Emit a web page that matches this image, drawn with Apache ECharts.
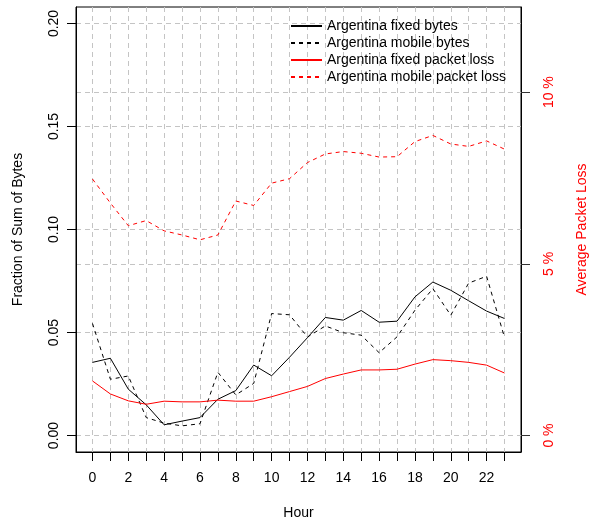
<!DOCTYPE html>
<html>
<head>
<meta charset="utf-8">
<script src="https://cdn.jsdelivr.net/npm/echarts@6/dist/echarts.min.js"></script>
<style>
  html, body { margin: 0; padding: 0; background: #fff; }
  #main { width: 591px; height: 527px; }
</style>
</head>
<body>
<div id="main"></div>
<script>
// hours of the day
var hours = [0, 1, 2, 3, 4, 5, 6, 7, 8, 9, 10, 11, 12, 13, 14, 15, 16, 17, 18, 19, 20, 21, 22, 23];
var hourLabels = [0, 2, 4, 6, 8, 10, 12, 14, 16, 18, 20, 22];
var leftTicks = [0, 0.05, 0.10, 0.15, 0.20];
var rightTicks = [0, 5, 10];

// fraction of sum of bytes
var fixedBytes = [0.0355, 0.0375, 0.0225, 0.0149, 0.0052, 0.007, 0.0087, 0.0176, 0.0218, 0.0342, 0.029, 0.038,
  0.0475, 0.0573, 0.056, 0.0607, 0.055, 0.0555, 0.0673, 0.0745, 0.0705, 0.0654, 0.0604, 0.0568];
var mobileBytes = [0.0544, 0.0273, 0.0289, 0.0087, 0.006, 0.0047, 0.0057, 0.0307, 0.0197, 0.0253, 0.0592, 0.0586,
  0.0478, 0.0532, 0.0499, 0.0487, 0.0402, 0.0479, 0.0608, 0.0713, 0.0584, 0.074, 0.0773, 0.0476];
// average packet loss, percent
var fixedLoss = [1.59, 1.21, 1.01, 0.91, 1.0, 0.98, 0.98, 1.03, 1.0, 1.0, 1.13, 1.28,
  1.43, 1.66, 1.79, 1.91, 1.91, 1.93, 2.08, 2.21, 2.18, 2.13, 2.05, 1.82];
var mobileLoss = [7.47, 6.77, 6.11, 6.26, 5.96, 5.84, 5.70, 5.84, 6.83, 6.70, 7.35, 7.48,
  7.95, 8.20, 8.27, 8.22, 8.11, 8.12, 8.56, 8.74, 8.49, 8.42, 8.58, 8.34];

var chart = echarts.init(document.getElementById('main'));

function pairs(vals) {
  var out = [];
  for (var i = 0; i < hours.length; i++) {
    out.push([hours[i], vals[i]]);
  }
  return out;
}

var font = 'Liberation Sans, Arial, sans-serif';
var gridLine = { show: true, lineStyle: { color: '#c4c4c4', type: [5, 4], width: 1 } };

var option = {
  backgroundColor: '#fff',
  animation: false,
  textStyle: { fontFamily: font },
  grid: {
    left: 76, right: 70, top: 7, bottom: 75,
    outerBoundsMode: 'none',
    show: true, borderColor: '#000', borderWidth: 1, backgroundColor: 'transparent'
  },
  legend: {
    orient: 'vertical',
    left: 285, top: 14,
    itemWidth: 31, itemHeight: 14, itemGap: 3,
    itemStyle: { opacity: 0 },
    textStyle: { fontSize: 14, color: '#000', fontFamily: font },
    data: ['Argentina fixed bytes', 'Argentina mobile bytes', 'Argentina fixed packet loss', 'Argentina mobile packet loss']
  },
  xAxis: {
    type: 'value',
    min: -0.92, max: 23.92,
    name: 'Hour', nameLocation: 'middle', nameGap: 54,
    nameTextStyle: { fontSize: 14, color: '#000', fontFamily: font },
    axisLine: { show: true, onZero: false, lineStyle: { color: '#000' } },
    axisTick: { show: true, length: 9, lineStyle: { color: '#000' }, customValues: hours },
    axisLabel: { customValues: hourLabels, margin: 19, fontSize: 14, color: '#000', fontFamily: font },
    splitLine: gridLine
  },
  yAxis: [{
    type: 'value',
    min: -0.008, max: 0.208,
    name: 'Fraction of Sum of Bytes', nameLocation: 'middle', nameGap: 51, nameRotate: 90,
    nameTextStyle: { fontSize: 14, color: '#000', fontFamily: font },
    axisLine: { show: true, onZero: false, lineStyle: { color: '#000' } },
    axisTick: { show: true, length: 9, lineStyle: { color: '#000' }, customValues: leftTicks },
    axisLabel: {
      customValues: leftTicks, rotate: 90, margin: 15, fontSize: 14, color: '#000', fontFamily: font,
      formatter: function (v) { return v.toFixed(2); }
    },
    splitLine: gridLine
  }, {
    type: 'value',
    position: 'right',
    min: -0.48, max: 12.48,
    name: 'Average Packet Loss', nameLocation: 'middle', nameGap: 54, nameRotate: 90,
    nameTextStyle: { fontSize: 14, color: '#ff0000', fontFamily: font },
    axisLine: { show: true, onZero: false, lineStyle: { color: '#000' } },
    axisTick: { show: true, length: 9, lineStyle: { color: '#333' }, customValues: rightTicks },
    axisLabel: {
      customValues: rightTicks, rotate: 90, margin: 21, fontSize: 14, color: '#ff0000', fontFamily: font,
      formatter: function (v) { return v + ' %'; }
    },
    splitLine: gridLine
  }],
  series: [{
    name: 'Argentina fixed bytes', type: 'line', yAxisIndex: 0,
    symbol: 'none', lineStyle: { color: '#000', width: 1 }, itemStyle: { color: '#000' },
    data: pairs(fixedBytes)
  }, {
    name: 'Argentina mobile bytes', type: 'line', yAxisIndex: 0,
    symbol: 'none', lineStyle: { color: '#000', width: 1, type: [4, 4] }, itemStyle: { color: '#000' },
    data: pairs(mobileBytes)
  }, {
    name: 'Argentina fixed packet loss', type: 'line', yAxisIndex: 1,
    symbol: 'none', lineStyle: { color: '#ff0000', width: 1 }, itemStyle: { color: '#ff0000' },
    data: pairs(fixedLoss)
  }, {
    name: 'Argentina mobile packet loss', type: 'line', yAxisIndex: 1,
    symbol: 'none', lineStyle: { color: '#ff0000', width: 1, type: [4, 4] }, itemStyle: { color: '#ff0000' },
    data: pairs(mobileLoss)
  }]
};

chart.setOption(option);
</script>
</body>
</html>
